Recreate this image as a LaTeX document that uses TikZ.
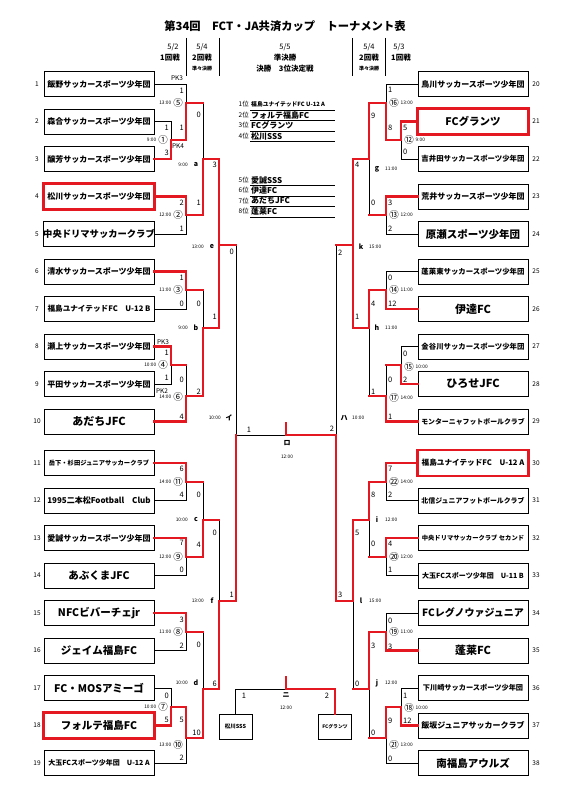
\documentclass[tikz,border=0pt]{standalone}
\usepackage{fontspec}
\setmainfont{Noto Sans CJK JP}
\definecolor{winred}{RGB}{228,24,32}
\newcommand\fsz[1]{\fontsize{#1}{#1}\selectfont}

\begin{document}
\begin{tikzpicture}[x=1pt,y=-1pt,
  team/.style={draw,line width=0.8pt,minimum width=110pt,minimum height=25pt,inner sep=0pt},
  minibox/.style={draw,line width=0.8pt,minimum width=33pt,minimum height=25pt,inner sep=0pt,font=\fsz{5.5}\bfseries},
  lose/.style={line width=0.7pt},
  win/.style={line width=2.6pt,draw=winred,line cap=rect},
  score/.style={inner sep=0pt,font=\fsz{7.5}},
  tm/.style={inner sep=0pt,font=\fsz{4.8}},
  rnd/.style={inner sep=0pt,font=\fsz{9.5}},
  lbl/.style={inner sep=0pt,font=\fsz{7}\bfseries}]
  % 1pt = 1px of the sheet, y runs downward
  \useasboundingbox (0,0) rectangle (566,800);

  % title and day headings
  \node[font=\fsz{11.3}\bfseries] (title) at (285,26) {第34回　FCT・JA共済カップ　トーナメント表};
  \node[font=\fsz{7.5}] (d1) at (173,47) {5/2};
  \node[font=\fsz{7.5}\bfseries] (h1) at (170,58) {1回戦};
  \node[font=\fsz{7.5}] (d2) at (202,47) {5/4};
  \node[font=\fsz{7.5}\bfseries] (h2) at (202,58) {2回戦};
  \node[font=\fsz{5}\bfseries] (q2) at (202,69) {準々決勝};
  \node[font=\fsz{7.5}] (d3) at (285,47) {5/5};
  \node[font=\fsz{7.5}\bfseries] (h3) at (285,58) {準決勝};
  \node[font=\fsz{7.5}\bfseries] (q3) at (285,69) {決勝　3位決定戦};
  \node[font=\fsz{7.5}] (d4) at (369,47) {5/4};
  \node[font=\fsz{7.5}\bfseries] (h4) at (369,58) {2回戦};
  \node[font=\fsz{5}\bfseries] (q4) at (369,69) {準々決勝};
  \node[font=\fsz{7.5}] (d5) at (399,47) {5/3};
  \node[font=\fsz{7.5}\bfseries] (h5) at (401,58) {1回戦};
  \foreach \x in {186,219,352,385} \draw[lose] (\x,38) -- (\x,76);

  % final standings
  \foreach \y/\rk/\s/\name [count=\k] in {104.5/1位/5.8/福島ユナイテッドFC U-12 A, 115/2位/8/フォルテ福島FC,
      125.5/3位/8/FCグランツ, 136/4位/8/松川SSS, 180/5位/8/愛誠SSS, 190.5/6位/8/伊達FC,
      201/7位/8/あだちJFC, 211.5/8位/8/蓬莱FC}{
    \node[font=\fsz{6.5},anchor=east,inner sep=0pt] (rk\k) at (249,\y) {\rk};
    \node[font=\fsz{\s}\bfseries,anchor=west,inner sep=0pt] (rn\k) at (251,\y) {\name};
    \draw[lose] (250,\y+5.5) -- (335,\y+5.5);}

  % team boxes: 1-19 left, 20-38 right, same rows
  \foreach \n/\s/\name in {1/8/飯野サッカースポーツ少年団, 2/8/森合サッカースポーツ少年団,
      3/8/醸芳サッカースポーツ少年団, 4/8/松川サッカースポーツ少年団, 5/9.3/中央ドリマサッカークラブ,
      6/8/清水サッカースポーツ少年団, 7/7.6/福島ユナイテッドFC　U-12 B, 8/8/瀬上サッカースポーツ少年団,
      9/8/平田サッカースポーツ少年団, 10/11/あだちJFC, 11/6.3/岳下・杉田ジュニアサッカークラブ,
      12/8/1995二本松Football　Club, 13/8/愛誠サッカースポーツ少年団, 14/10.5/あぶくまJFC,
      15/10.5/NFCビバーチェjr, 16/10.5/ジェイム福島FC, 17/10.5/FC・MOSアミーゴ,
      18/10.5/フォルテ福島FC, 19/7/大玉FCスポーツ少年団　U-12 A,
      20/8/鳥川サッカースポーツ少年団, 21/10.5/FCグランツ, 22/7.4/吉井田サッカースポーツ少年団,
      23/8/荒井サッカースポーツ少年団, 24/10.5/原瀬スポーツ少年団, 25/7.4/蓬莱東サッカースポーツ少年団,
      26/11/伊達FC, 27/7.4/金谷川サッカースポーツ少年団, 28/11/ひろせJFC,
      29/6.9/モンターニャフットボールクラブ, 30/7.6/福島ユナイテッドFC　U-12 A,
      31/6.9/北信ジュニアフットボールクラブ, 32/6.3/中央ドリマサッカークラブ セカンド,
      33/7/大玉FCスポーツ少年団　U-11 B, 34/10/FCレグノウァジュニア, 35/11/蓬莱FC,
      36/7.2/下川崎サッカースポーツ少年団, 37/8/飯坂ジュニアサッカークラブ, 38/10.5/南福島アウルズ}{
    \pgfmathsetmacro\rw{\n>19 ? \n-19 : \n}
    \pgfmathsetmacro\y{\rw<11 ? 84+37.5*(\rw-1) : 463+37.5*(\rw-11)}
    \pgfmathsetmacro\x{\n>19 ? 473 : 99}
    \pgfmathsetmacro\nx{\n>19 ? 536 : 37}
    \node[team,font=\fsz{\s}\bfseries] (t\n) at (\x,\y) {\name};
    \node[font=\fsz{6.5}] (n\n) at (\nx,\y) {\n};}
  % top four
  \foreach \t in {t4,t18,t21,t30} \draw[win] (\t.south west) rectangle (\t.north east);

  % match points
  \foreach \m/\x/\y in {m1/171/140, m2/186/215, m3/186/290, m4/171/365, m5/186/103, m6/186/396,
      m7/171/707, m8/186/632, m9/186/557, m10/186/738, m11/186/482,
      qa/203/159, qb/203/328, qc/203/520, qd/203/689, qe/219/245, qf/219/601, si/236/435,
      m12/401/140, m13/386/215, m14/386/290, m15/401/365, m16/386/103, m17/386/396,
      m18/401/707, m19/386/632, m20/386/557, m21/386/738, m22/386/482,
      qg/369/159, qh/369/328, qi/369/520, qj/369/689, qk/353/245, ql/353/601, sh/336/435,
      fin/286/435, fintop/286/423, nc/286/689, nctop/286/677}
    \coordinate (\m) at (\x,\y);

  % 3rd place boxes
  \node[minibox] (s1) at (235.5,726.5) {松川SSS};
  \node[minibox,font=\fsz{4.8}\bfseries] (s2) at (335,726.5) {FCグランツ};

  % losing lines
  \foreach \a/\b in {t1.east/m5, t2.east/m1, t5.east/m2, t7.east/m3, t9.east/m4, t12.east/m11,
      t14.east/m9, t16.east/m8, t17.east/m7, t19.east/m10, t20.west/m16, t22.west/m12,
      t24.west/m13, t25.west/m14, t27.west/m15, t31.west/m22, t33.west/m20, t34.west/m19,
      t36.west/m18, t38.west/m21}
    \draw[lose] (\a) -| (\b);
  \foreach \a/\b in {m4/m6, m5/qa, m3/qb, m11/qc, m8/qd, qc/qf, qe/si,
      m15/m17, m13/qg, m17/qh, m20/qi, m21/qj, qj/ql, qk/sh}
    \draw[lose] (\a) -| (\b);
  \draw[lose] (si) -- (fin);
  \draw[lose] (s1.north) |- (nc);

  % winning lines
  \foreach \a/\b in {m4/m6, m5/qa, m3/qb, m11/qc, m8/qd, qc/qf, qe/si,
      m15/m17, m13/qg, m17/qh, m20/qi, m21/qj, qj/ql, qk/sh}
    \draw[win] (\a) -- (\a -| \b);
  \foreach \a/\b in {t3.east/m1, t4.east/m2, t6.east/m3, t8.east/m4, t10.east/m6, t11.east/m11,
      t13.east/m9, t15.east/m8, t18.east/m7, t21.west/m12, t23.west/m13, t26.west/m14,
      t28.west/m15, t29.west/m17, t30.west/m22, t32.west/m20, t35.west/m19, t37.west/m18,
      m1/m5, m7/m10, m2/qa, m6/qb, m9/qc, m10/qd, qa/qe, qb/qe, qd/qf, qf/si,
      m12/m16, m18/m21, m16/qg, m14/qh, m22/qi, m19/qj, qg/qk, qh/qk, qi/ql, ql/sh}
    \draw[win] (\a) -| (\b);
  \draw[win] (sh) -- (fin) -- (fintop);
  \draw[win] (s2.north) |- (nc) -- (nctop);

  % match numbers and kick-off times
  \foreach \x/\y/\c/\h [count=\k] in {171/140/①/9:00, 186/215/②/12:00, 186/290/③/11:00,
      171/365/④/10:00, 186/103/⑤/13:00, 186/397/⑥/14:00, 171/707/⑦/10:00, 186/632/⑧/11:00,
      186/557/⑨/12:00, 186/745/⑩/13:00, 186/482/⑪/14:00}{
    \node[rnd] (cl\k) at (\x-8,\y) {\c};
    \node[tm,anchor=east] (tl\k) at (\x-14.5,\y) {\h};}
  \foreach \x/\y/\c/\h [count=\k] in {401/140/⑫/9:00, 386/215/⑬/12:00, 386/290/⑭/11:00,
      401/367/⑮/10:00, 386/103/⑯/13:00, 386/398/⑰/14:00, 401/708/⑱/10:00, 386/632/⑲/11:00,
      386/557/⑳/12:00, 386/745/㉑/13:00, 386/482/㉒/14:00}{
    \node[rnd] (cr\k) at (\x+8,\y) {\c};
    \node[tm,anchor=west] (tr\k) at (\x+14.5,\y) {\h};}
  \foreach \x/\y/\c/\h [count=\k] in {203/165/a/9:00, 203/328/b/9:00, 203/520/c/10:00,
      203/683/d/10:00, 219/247/e/13:00, 219/601/f/13:00, 236/418/イ/10:00}{
    \node[lbl] (ll\k) at (\x-7,\y) {\c};
    \node[tm,anchor=east] (ul\k) at (\x-15,\y) {\h};}
  \foreach \x/\y/\c/\h [count=\k] in {369/169/g/11:00, 369/328/h/11:00, 369/520/i/12:00,
      369/683/j/12:00, 353/247/k/15:00, 353/601/l/15:00, 336/418/ハ/10:00}{
    \node[lbl] (lr\k) at (\x+8,\y) {\c};
    \node[tm,anchor=west] (ur\k) at (\x+16,\y) {\h};}
  \node[lbl] (ro) at (287,443) {ロ};
  \node[tm] (rot) at (287,457) {12:00};
  \node[lbl] (ni) at (286,695) {ニ};
  \node[tm] (nit) at (286,708) {12:00};

  % PK results
  \foreach \x/\y/\p [count=\k] in {177/78/PK3, 178/146/PK4, 163/342/PK3, 162/391/PK2}
    \node[font=\fsz{6.5},inner sep=0pt] (pk\k) at (\x,\y) {\p};

  % scores
  \foreach \x/\y/\val [count=\k] in {171/128/1, 171/153/3, 186/91/1, 186/128/1, 186/203/2, 186/229/1,
      186/278/1, 186/304/0, 171/353/1, 171/378/1, 186/380/0, 186/417/4, 203/115/0, 203/203/1,
      203/304/0, 203/392/2, 219/165/3, 219/317/1, 236/252/0, 236/595/1, 186/469/6, 186/495/4,
      186/543/7, 186/570/0, 203/495/0, 203/545/4, 186/620/3, 186/646/2, 171/696/0, 171/720/5,
      186/720/5, 186/758/2, 203/645/0, 203/733/10, 219/533/0, 219/684/6}
    \node[score,anchor=east] (sl\k) at (\x-2,\y) {\val};
  \foreach \x/\y/\val [count=\k] in {386/90/1, 386/128/8, 401/128/5, 401/152/0, 386/203/3, 386/229/2,
      369/116/9, 369/203/0, 353/165/4, 353/317/1, 336/253/2, 336/595/3, 386/278/0, 386/304/12,
      401/354/0, 401/380/2, 386/380/0, 386/417/1, 369/304/4, 369/392/1, 386/469/7, 386/495/2,
      386/544/4, 386/570/1, 369/495/8, 369/544/0, 353/533/5, 353/684/0, 386/621/0, 386/647/3,
      401/696/1, 401/721/12, 386/721/9, 386/759/0, 369/646/3, 369/733/0}
    \node[score,anchor=west] (sr\k) at (\x+2,\y) {\val};
  \node[score] (f1) at (249,430) {1};
  \node[score] (f2) at (332,429) {2};
  \node[score] (n1) at (244,696) {1};
  \node[score] (n2) at (327,696) {2};
\end{tikzpicture}
\end{document}
